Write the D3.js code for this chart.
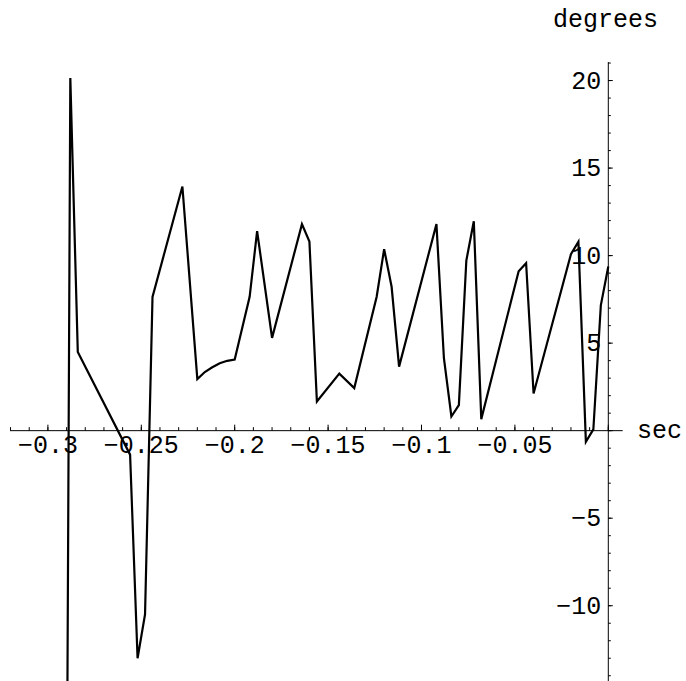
<!DOCTYPE html>
<html>
<head>
<meta charset="utf-8">
<script src="https://cdn.jsdelivr.net/npm/d3@7"></script>
<style>
  html, body { margin: 0; padding: 0; background: #fff; }
  svg { display: block; }
  .lbl { font-family: "Liberation Mono", "Courier New", monospace; font-size: 25px; fill: #000; }
</style>
</head>
<body>
<svg id="chart" width="686" height="681"></svg>
<script>
// Time (s) of each sample and the measured angle (degrees)
const timeSec = [
  -0.292, -0.288, -0.284, -0.256, -0.252, -0.248, -0.244, -0.228, -0.220, -0.216,
  -0.212, -0.208, -0.204, -0.200, -0.192, -0.188, -0.180, -0.164, -0.160, -0.156,
  -0.144, -0.136, -0.124, -0.120, -0.116, -0.112, -0.092, -0.088, -0.084, -0.080,
  -0.076, -0.072, -0.068, -0.048, -0.044, -0.040, -0.020, -0.016, -0.012, -0.008,
  -0.004, 0.000
];
const angleDeg = [
  -70, 20.15, 4.5, -1.37, -13.0, -10.5, 7.64, 13.95, 2.95, 3.35,
  3.62, 3.85, 3.99, 4.06, 7.65, 11.4, 5.3, 11.8, 10.8, 1.67,
  3.26, 2.43, 7.65, 10.37, 8.22, 3.66, 11.8, 4.14, 0.81, 1.46,
  9.72, 11.96, 0.66, 9.11, 9.57, 2.12, 10.08, 10.79, -0.63, 0.07,
  7.16, 9.38
];

// Axis ticks
const xTickLabels = [-0.3, -0.25, -0.2, -0.15, -0.1, -0.05];
const xMajorTicks = [-0.3, -0.25, -0.2, -0.15, -0.1, -0.05, 0];
const xMinorTicks = d3.range(-32, 1).map(k => k / 100);
const yTickLabels = [-10, -5, 5, 10, 15, 20];
const yMajorTicks = [-10, -5, 0, 5, 10, 15, 20];
const yMinorTicks = d3.range(-14, 22);

const xAxisLabel = "sec";
const yAxisLabel = "degrees";

// Layout
const plotLeft = 10, plotRight = 622.7, plotTop = 62, plotBottom = 681;

const x = d3.scaleLinear().domain([-0.32029, 0.00771]).range([plotLeft, plotRight]);
const y = d3.scaleLinear().domain([-14.3, 21.06]).range([plotBottom, plotTop]);

const svg = d3.select("#chart");

svg.append("defs").append("clipPath").attr("id", "plotClip")
  .append("rect")
  .attr("x", plotLeft).attr("y", 0)
  .attr("width", plotRight - plotLeft).attr("height", plotBottom);

const x0 = x(0), y0 = y(0);

// Horizontal axis through y = 0
const gx = svg.append("g").attr("stroke", "#000").attr("stroke-width", 1);
gx.append("line")
  .attr("x1", plotLeft).attr("x2", plotRight)
  .attr("y1", y0).attr("y2", y0);
gx.selectAll("line.minor").data(xMinorTicks).join("line")
  .attr("class", "minor")
  .attr("x1", d => x(d)).attr("x2", d => x(d))
  .attr("y1", y0).attr("y2", y0 - 3.5);
gx.selectAll("line.major").data(xMajorTicks).join("line")
  .attr("class", "major")
  .attr("x1", d => x(d)).attr("x2", d => x(d))
  .attr("y1", y0).attr("y2", y0 - 6);

svg.append("g").selectAll("text").data(xTickLabels).join("text")
  .attr("class", "lbl")
  .attr("x", d => x(d))
  .attr("y", y0 + 22.5)
  .attr("text-anchor", "middle")
  .text(d => String(d).replace("-", "\u2212"));

// Vertical axis through x = 0
const gy = svg.append("g").attr("stroke", "#000").attr("stroke-width", 1);
gy.append("line")
  .attr("x1", x0).attr("x2", x0)
  .attr("y1", plotTop).attr("y2", plotBottom);
gy.selectAll("line.minor").data(yMinorTicks).join("line")
  .attr("class", "minor")
  .attr("x1", x0).attr("x2", x0 + 2.5)
  .attr("y1", d => y(d)).attr("y2", d => y(d));
gy.selectAll("line.major").data(yMajorTicks).join("line")
  .attr("class", "major")
  .attr("x1", x0).attr("x2", x0 + 4.5)
  .attr("y1", d => y(d)).attr("y2", d => y(d));

svg.append("g").selectAll("text").data(yTickLabels).join("text")
  .attr("class", "lbl")
  .attr("x", x0 - 7)
  .attr("y", d => y(d) + 8)
  .attr("text-anchor", "end")
  .text(d => String(d).replace("-", "\u2212"));

// Axis names
svg.append("text").attr("class", "lbl")
  .attr("x", 637).attr("y", y0 + 7)
  .text(xAxisLabel);
svg.append("text").attr("class", "lbl")
  .attr("x", 553).attr("y", 27)
  .text(yAxisLabel);

// Data trace
const pts = timeSec.map((t, i) => [t, angleDeg[i]]);
const line = d3.line().x(d => x(d[0])).y(d => y(d[1]));
svg.append("path")
  .attr("clip-path", "url(#plotClip)")
  .attr("d", line(pts))
  .attr("fill", "none")
  .attr("stroke", "#000")
  .attr("stroke-width", 2.2)
  .attr("stroke-linejoin", "miter")
  .attr("stroke-miterlimit", 4);
</script>
</body>
</html>
